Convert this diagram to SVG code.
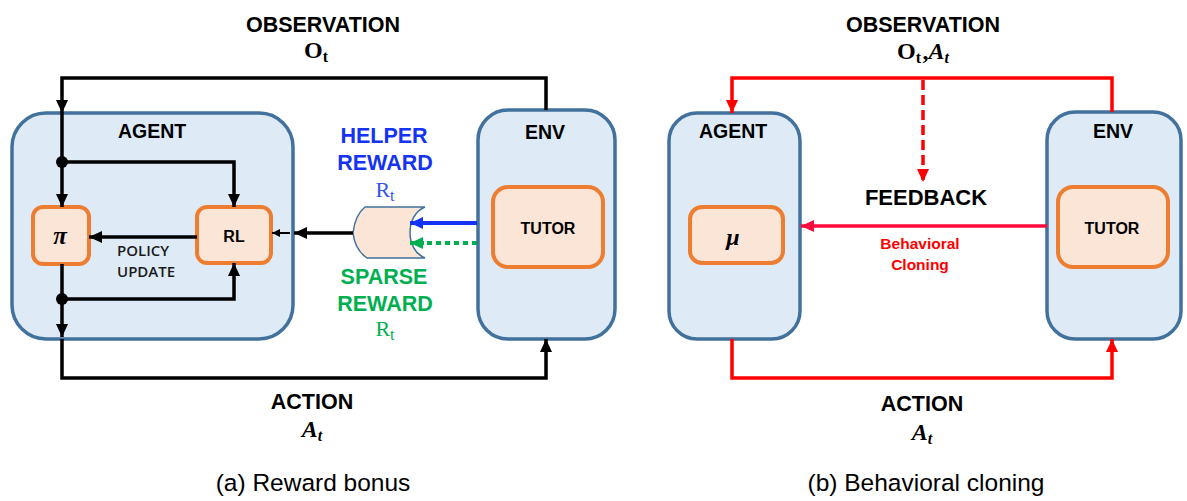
<svg xmlns="http://www.w3.org/2000/svg" width="1187" height="501" viewBox="0 0 1187 501">
<style>
.bbox{fill:#DEEBF7;stroke:#41719C;stroke-width:3.5}
.obox{fill:#FBE5D6;stroke:#ED7D31;stroke-width:4}
.lbl{font-family:"Liberation Sans",Arial,sans-serif;font-weight:bold;fill:#000}
.cap{font-family:"Liberation Sans",Arial,sans-serif;font-size:24.5px;fill:#000}
.math{font-family:"Liberation Serif","Times New Roman",serif;fill:#000}
.blk{fill:none;stroke:#000;stroke-width:3.5}
.red{fill:none;stroke:#FF0000;stroke-width:3.5}
.pol{font-family:"Open Sans","Liberation Sans",sans-serif;font-weight:600;font-size:15px;fill:#1a1a1a}
</style>
<defs>
<marker id="ab" markerUnits="userSpaceOnUse" markerWidth="13" markerHeight="12" refX="13" refY="6" orient="auto"><path d="M0,0 L13,6 L0,12 z" fill="#000"/></marker>
<marker id="abs" markerUnits="userSpaceOnUse" markerWidth="8" markerHeight="8" refX="8" refY="4" orient="auto"><path d="M0,0 L8,4 L0,8 z" fill="#000"/></marker>
<marker id="ar" markerUnits="userSpaceOnUse" markerWidth="13" markerHeight="12" refX="13" refY="6" orient="auto"><path d="M0,0 L13,6 L0,12 z" fill="#FF0000"/></marker>
<marker id="ac" markerUnits="userSpaceOnUse" markerWidth="13" markerHeight="12" refX="13" refY="6" orient="auto"><path d="M0,0 L13,6 L0,12 z" fill="#FF0A3C"/></marker>
<marker id="abl" markerUnits="userSpaceOnUse" markerWidth="13" markerHeight="12" refX="13" refY="6" orient="auto"><path d="M0,0 L13,6 L0,12 z" fill="#1433F5"/></marker>
<marker id="agr" markerUnits="userSpaceOnUse" markerWidth="13" markerHeight="12" refX="13" refY="6" orient="auto"><path d="M0,0 L13,6 L0,12 z" fill="#00B050"/></marker>
</defs>

<!-- Panel (a) -->
<g id="agent-a">
<rect class="bbox" x="12" y="113" width="281" height="226" rx="34"/>
<text class="lbl" x="152" y="138" font-size="19.5" text-anchor="middle">AGENT</text>
</g>
<g id="pi">
<rect class="obox" x="33" y="207" width="56" height="57" rx="10"/>
<text class="math" x="60" y="244" font-size="25" font-weight="bold" font-style="italic" text-anchor="middle">π</text>
</g>
<g id="rl">
<rect class="obox" x="197" y="207" width="74" height="56" rx="10"/>
<text class="lbl" x="234" y="242" font-size="16" text-anchor="middle">RL</text>
</g>
<g id="env-a">
<rect class="bbox" x="478" y="110" width="137" height="229" rx="30"/>
<text class="lbl" x="545" y="139" font-size="19.5" text-anchor="middle">ENV</text>
</g>
<g id="tutor-a">
<rect class="obox" x="493" y="187" width="110" height="80" rx="15"/>
<text class="lbl" x="548" y="234" font-size="16" text-anchor="middle">TUTOR</text>
</g>
<g id="gate">
<path d="M425,207 L365,207 Q355,215 353,233 Q355,250 367,258 L425,258 C405,250 405,215 425,207 Z" fill="#FBE5D6" stroke="#41719C" stroke-width="1.5"/>
</g>

<g id="connectors-a">
<polyline class="blk" points="546,110 546,78 62,78 62,113" marker-end="url(#ab)"/>
<line class="blk" x1="62" y1="113" x2="62" y2="207" marker-end="url(#ab)"/>
<polyline class="blk" points="62,162 234,162 234,207" marker-end="url(#ab)"/>
<line class="blk" x1="197" y1="237" x2="89" y2="237" marker-end="url(#ab)"/>
<line class="blk" x1="62" y1="264" x2="62" y2="337" marker-end="url(#ab)"/>
<polyline class="blk" points="62,299 234,299 234,263" marker-end="url(#ab)"/>
<polyline class="blk" points="62,339 62,378 546,378 546,339" marker-end="url(#ab)"/>
<line class="blk" x1="353" y1="233" x2="294" y2="233" marker-end="url(#ab)"/>
<line x1="290" y1="233" x2="272" y2="233" stroke="#000" stroke-width="2" marker-end="url(#abs)"/>
<line x1="477" y1="223" x2="410" y2="223" stroke="#1433F5" stroke-width="4" marker-end="url(#abl)"/>
<line x1="477" y1="243" x2="423" y2="243" stroke="#00B050" stroke-width="4" stroke-dasharray="5 4"/>
<line x1="424" y1="243" x2="410" y2="243" stroke="#00B050" stroke-width="4" marker-end="url(#agr)"/>
<circle cx="62" cy="162" r="6" fill="#000"/>
<circle cx="62" cy="299" r="6" fill="#000"/>
</g>

<text class="lbl" x="323" y="32" font-size="21.5" text-anchor="middle">OBSERVATION</text>
<text class="math" x="316" y="58" font-size="24" font-weight="bold" text-anchor="middle">O<tspan font-size="16" dy="4">t</tspan></text>
<text class="lbl" x="384" y="143" font-size="21.5" text-anchor="middle" style="fill:#1433F5">HELPER</text>
<text class="lbl" x="385" y="170" font-size="21.5" text-anchor="middle" style="fill:#1433F5">REWARD</text>
<text class="math" x="385" y="197" font-size="22" text-anchor="middle" style="fill:#3355EE">R<tspan font-size="16" dy="4">t</tspan></text>
<text class="lbl" x="384" y="284" font-size="21.5" text-anchor="middle" style="fill:#00B050">SPARSE</text>
<text class="lbl" x="385" y="311" font-size="21.5" text-anchor="middle" style="fill:#00B050">REWARD</text>
<text class="math" x="385" y="336" font-size="22" text-anchor="middle" style="fill:#00B050">R<tspan font-size="16" dy="4">t</tspan></text>
<text class="pol" x="117" y="256">POLICY</text>
<text class="pol" x="117" y="277">UPDATE</text>
<text class="lbl" x="312" y="409" font-size="21.5" text-anchor="middle">ACTION</text>
<text class="math" x="312" y="437" font-size="24" font-weight="bold" font-style="italic" text-anchor="middle">A<tspan font-size="16" dy="4">t</tspan></text>
<text class="cap" x="313" y="491" text-anchor="middle">(a) Reward bonus</text>

<!-- Panel (b) -->
<g id="agent-b">
<rect class="bbox" x="669" y="113" width="131" height="226" rx="28"/>
<text class="lbl" x="733" y="138" font-size="19.5" text-anchor="middle">AGENT</text>
</g>
<g id="mu">
<rect class="obox" x="690" y="207" width="93" height="56" rx="12"/>
<text class="math" x="733" y="245" font-size="24" font-weight="bold" font-style="italic" text-anchor="middle">μ</text>
</g>
<g id="env-b">
<rect class="bbox" x="1047" y="112" width="134" height="227" rx="28"/>
<text class="lbl" x="1113" y="138" font-size="19.5" text-anchor="middle">ENV</text>
</g>
<g id="tutor-b">
<rect class="obox" x="1058" y="187" width="110" height="80" rx="15"/>
<text class="lbl" x="1112" y="234" font-size="16" text-anchor="middle">TUTOR</text>
</g>

<g id="connectors-b">
<polyline class="red" points="1112,112 1112,78 732,78 732,113" marker-end="url(#ar)"/>
<line class="red" x1="923" y1="80" x2="923" y2="182" stroke-dasharray="10 5" marker-end="url(#ar)"/>
<line x1="1047" y1="226" x2="801" y2="226" stroke="#FF0A3C" stroke-width="3.5" marker-end="url(#ac)"/>
<polyline class="red" points="732,339 732,378 1112,378 1112,339" marker-end="url(#ar)"/>
</g>

<text class="lbl" x="923" y="32" font-size="21.5" text-anchor="middle">OBSERVATION</text>
<text class="math" x="923" y="59" font-size="24" font-weight="bold" text-anchor="middle">O<tspan font-size="16" dy="4">t</tspan><tspan dx="1.5" dy="-4">,</tspan><tspan font-style="italic">A</tspan><tspan font-size="16" font-style="italic" dy="4">t</tspan></text>
<text class="lbl" x="926" y="205" font-size="22" text-anchor="middle">FEEDBACK</text>
<text class="lbl" x="920" y="249" font-size="15.5" text-anchor="middle" style="fill:#FF0000">Behavioral</text>
<text class="lbl" x="920" y="270" font-size="15.5" text-anchor="middle" style="fill:#FF0000">Cloning</text>
<text class="lbl" x="922" y="411" font-size="21.5" text-anchor="middle">ACTION</text>
<text class="math" x="922" y="440" font-size="24" font-weight="bold" font-style="italic" text-anchor="middle">A<tspan font-size="16" dy="4">t</tspan></text>
<text class="cap" x="926" y="491" text-anchor="middle">(b) Behavioral cloning</text>
</svg>
